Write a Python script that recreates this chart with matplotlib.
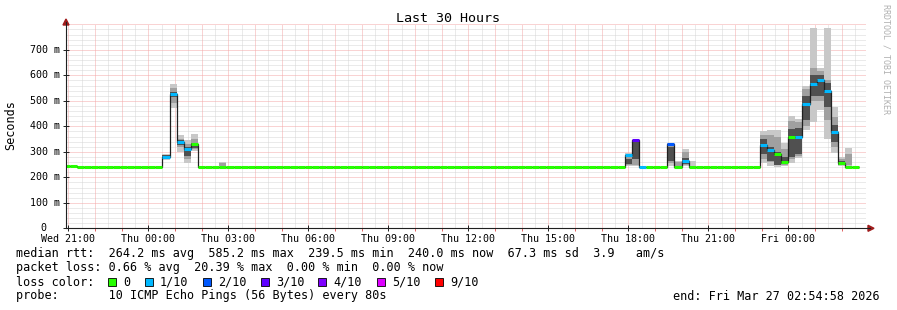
import numpy as np
import matplotlib
matplotlib.use("Agg")
import matplotlib.pyplot as plt
from matplotlib.lines import Line2D
from matplotlib.patches import Polygon, Rectangle

plt.rcParams['font.family'] = ['DejaVu Sans Mono']

# 16 minute bins, bin 0 starts Thu 00:00; first bin shown is -12
first_bin = -12
bin_minutes = 16

# median rtt per bin (ms), bins -12 .. 99
median_ms = [
    244, 244, 240, 240, 240, 240, 240, 240, 240, 240, 240, 240, 240, 240, 281, 527,
    338, 311, 332, 240, 240, 240, 240, 240, 240, 240, 240, 240, 240, 240, 240, 240,
    240, 240, 240, 240, 240, 240, 240, 240, 240, 240, 240, 240, 240, 240, 240, 240,
    240, 240, 240, 240, 240, 240, 240, 240, 240, 240, 240, 240, 240, 240, 240, 240,
    240, 240, 240, 240, 240, 240, 240, 240, 240, 240, 240, 240, 240, 240, 240, 288,
    346, 240, 240, 240, 240, 331, 240, 262, 240, 240, 240, 240, 240, 240, 240, 240,
    240, 240, 325, 307, 291, 260, 359, 359, 488, 567, 582, 538, 377, 258, 240, 240,
]

# lost pings out of 10 per bin
loss = [
    0, 0, 0, 0, 0, 0, 0, 0, 0, 0, 0, 0, 0, 0, 1, 1,
    1, 1, 0, 0, 0, 0, 0, 0, 0, 0, 0, 0, 0, 0, 0, 0,
    0, 0, 0, 0, 0, 0, 0, 0, 0, 0, 0, 0, 0, 0, 0, 0,
    0, 0, 0, 0, 0, 0, 0, 0, 0, 0, 0, 0, 0, 0, 0, 0,
    0, 0, 0, 0, 0, 0, 0, 0, 0, 0, 0, 0, 0, 0, 0, 1,
    3, 1, 0, 0, 0, 2, 0, 1, 0, 0, 0, 0, 0, 0, 0, 0,
    0, 0, 1, 1, 0, 0, 0, 1, 1, 1, 1, 1, 1, 0, 0, 0,
]

# smoke (spread of the 10 pings) for the bins that have any
nan = np.nan
smoke_bins = [2, 3, 4, 5, 6, 10, 67, 68, 73, 74, 75, 76,
              86, 87, 88, 89, 90, 91, 92, 93, 94, 95, 96, 97, 98]
outer_lo = [268, 472, 300, 258, 303, 244, 244, 244, 245, 244, 244, 246,
            255, 245, 242, 245, 255, 275, 385, 418, 464, 349, 296, 243, 245]
outer_hi = [292, 566, 366, 345, 368, 260, 296, 348, 335, 265, 311, 262,
            380, 385, 385, 335, 440, 427, 560, 785, 628, 785, 477, 278, 313]
mid_lo = [272, 490, 318, 270, 310, 246, 248, 250, 255, 246, 250, nan,
          270, 260, 250, 250, 270, 285, 400, 500, 500, 425, 320, 248, 248]
mid_hi = [288, 550, 352, 330, 350, 258, 280, 345, 330, 260, 300, nan,
          365, 365, 360, 310, 420, 415, 545, 630, 615, 582, 438, 270, 290]
inner_lo = [276, 515, 328, 282, 315, nan, 252, 270, 265, nan, 252, nan,
            290, 265, 250, 252, 280, 290, 425, 520, 520, 477, 340, 250, nan]
inner_hi = [286, 535, 345, 318, 335, nan, 270, 340, 320, nan, 275, nan,
            350, 320, 300, 280, 390, 395, 520, 600, 600, 570, 405, 262, nan]

loss_labels = ['0', '1/10', '2/10', '3/10', '4/10', '5/10', '9/10']
loss_colors = ['#26ff00', '#00b8ff', '#0059ff', '#5e00ff', '#7e00ff', '#dd00ff', '#ff0000']

hour_ticks = [-3, 0, 3, 6, 9, 12, 15, 18, 21, 24]
hour_labels = ['Wed 21:00', 'Thu 00:00', 'Thu 03:00', 'Thu 06:00', 'Thu 09:00',
               'Thu 12:00', 'Thu 15:00', 'Thu 18:00', 'Thu 21:00', 'Fri 00:00']
y_ticks = [0, 100, 200, 300, 400, 500, 600, 700]
y_labels = ['0', '100 m', '200 m', '300 m', '400 m', '500 m', '600 m', '700 m']

# end of graph: Fri 02:54:58, 30 hours shown
t_end = 24 + 2 + 54 / 60 + 58 / 3600
t_start = t_end - 30

W, H = 897, 310


def fx(x):
    return x / W


def fy(y):
    return 1 - y / H


def loss_color(n):
    if n >= 9:
        return loss_colors[6]
    if n >= 5:
        return loss_colors[5]
    return loss_colors[n]


fig = plt.figure(figsize=(W / 100, H / 100), dpi=100)
ax = fig.add_axes([fx(66), fy(228.3), 800 / W, 204 / H])
ax.set_xlim(t_start, t_end)
ax.set_ylim(0, 800)
for s in ax.spines.values():
    s.set_visible(False)

# grid, dotted like rrdtool
dots = (0, (1, 1))
half_hours = np.arange(-3.5, 27, 1.0)
grid_kw = dict(lw=0.72, linestyles=dots)
ax.vlines(half_hours, 0, 800, colors='#d6d6d6', zorder=0.5, **grid_kw)
minor_y = [v for v in range(20, 800, 20) if v % 100]
ax.hlines(minor_y, t_start, t_end, colors='#d6d6d6', zorder=0.5, **grid_kw)
ax.vlines(np.arange(-3, 27, 1.0), 0, 800, colors='#f4a8a8', zorder=0.6, **grid_kw)
ax.hlines(range(100, 801, 100), t_start, t_end, colors='#f4a8a8', zorder=0.6, **grid_kw)

bin_w = bin_minutes / 60
starts = (first_bin + np.arange(len(median_ms))) * bin_w
edges = np.append(starts, starts[-1] + bin_w)

# smoke layers, light outside, dark inside
sx = np.array(smoke_bins) * bin_w
for lo, hi, col in [(outer_lo, outer_hi, '#c8c8c8'),
                    (mid_lo, mid_hi, '#a0a0a0'),
                    (inner_lo, inner_hi, '#505050')]:
    lo = np.array(lo, dtype=float)
    hi = np.array(hi, dtype=float)
    ok = ~np.isnan(lo)
    ax.bar(sx[ok], hi[ok] - lo[ok], bottom=lo[ok], width=bin_w, align='edge',
           color=col, linewidth=0, zorder=1, antialiased=False)

# median line + loss colour
ax.stairs(median_ms, edges, baseline=None, color='#202020', lw=0.9, zorder=3)
ax.hlines(median_ms, starts, starts + bin_w, colors=[loss_color(n) for n in loss],
          lw=2.2, zorder=4)

# ticks
ax.set_xticks(hour_ticks)
ax.set_xticklabels(hour_labels, fontsize=7.2)
ax.set_xticks(np.arange(-3, 27, 1), minor=True)
ax.tick_params(axis='x', which='major', direction='inout', length=4, width=0.7,
               color='#202020', pad=2)
ax.tick_params(axis='x', which='minor', direction='out', length=2, width=0.7,
               color='#e06060')
ax.set_yticks(y_ticks)
ax.set_yticklabels([])
ax.tick_params(axis='y', which='major', direction='inout', length=4, width=0.7,
               color='#202020')
ytr = ax.get_yaxis_transform()
for v, lab in zip(y_ticks, y_labels):
    xr = -0.0075 if lab != '0' else -0.024
    ax.text(xr, v, lab, transform=ytr, ha='right', va='center', fontsize=7.2)

# axis lines with arrows
fig.add_artist(Line2D([fx(66), fx(870)], [fy(228.3), fy(228.3)], color='#202020',
                      lw=0.8, transform=fig.transFigure))
fig.add_artist(Line2D([fx(66), fx(66)], [fy(228.3), fy(22)], color='#202020',
                      lw=0.8, transform=fig.transFigure))
fig.add_artist(Polygon([(fx(868), fy(225.3)), (fx(874), fy(228.3)), (fx(868), fy(231.3))],
                       closed=True, color='#a01c1c', transform=fig.transFigure))
fig.add_artist(Polygon([(fx(63), fy(25)), (fx(66), fy(19)), (fx(69), fy(25))],
                       closed=True, color='#a01c1c', transform=fig.transFigure))

# texts
fig.text(fx(448), fy(19), 'Last 30 Hours', ha='center', va='center', fontsize=9.6)
fig.text(fx(11), fy(125), 'Seconds', rotation=90, ha='center', va='center', fontsize=8.5)
fig.text(fx(886), fy(4), 'RRDTOOL / TOBI OETIKER', rotation=270, ha='center', va='top',
         fontsize=6, color='#b0b0b0')

fig.text(fx(16), fy(254), 'median rtt:  264.2 ms avg  585.2 ms max  239.5 ms min  '
         '240.0 ms now  67.3 ms sd  3.9   am/s', va='center', fontsize=8.5)
fig.text(fx(16), fy(268), 'packet loss: 0.66 % avg  20.39 % max  0.00 % min  0.00 % now',
         va='center', fontsize=8.5)
fig.text(fx(16), fy(282), 'loss color:', va='center', fontsize=8.5)
label_x = [123, 160, 218, 276, 333, 392, 450]
for lx, lab, col in zip(label_x, loss_labels, loss_colors):
    fig.add_artist(Rectangle((fx(lx - 15), fy(286)), 8 / W, 8 / H, facecolor=col,
                             edgecolor='#000000', lw=0.6, transform=fig.transFigure))
    fig.text(fx(lx), fy(282), lab, va='center', fontsize=8.5)
fig.text(fx(16), fy(296), 'probe:       10 ICMP Echo Pings (56 Bytes) every 80s',
         va='center', fontsize=8.5)
fig.text(fx(880), fy(296), 'end: Fri Mar 27 02:54:58 2026', ha='right', va='center',
         fontsize=8.5)

fig.savefig('out.png', dpi=100, facecolor='white')
